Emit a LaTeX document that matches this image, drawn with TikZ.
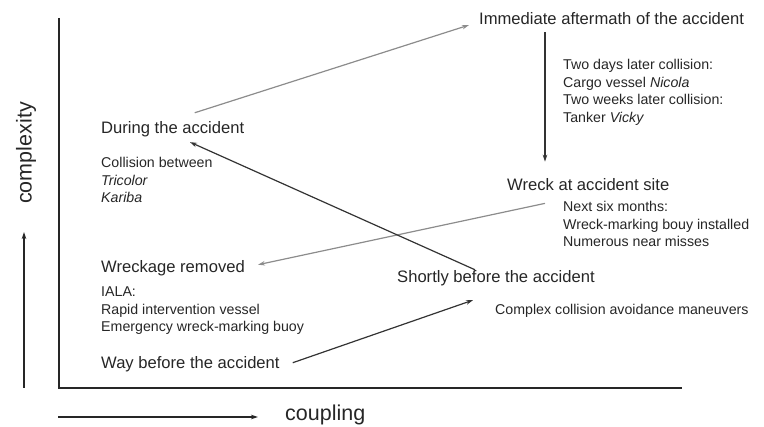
\documentclass[tikz,border=0pt]{standalone}
\usepackage{fontspec}
\setmainfont{Liberation Sans}
\usetikzlibrary{arrows.meta}
\begin{document}
\begin{tikzpicture}[x=1pt,y=-1pt,>={Stealth[length=7pt,width=4.5pt]},
  big/.style={anchor=base west,inner sep=0pt,font=\fontsize{16.6}{20}\selectfont,text=black!85},
  small/.style={anchor=base west,inner sep=0pt,align=left,font=\fontsize{14.2}{17.5}\selectfont,text=black!85},
  axislabel/.style={inner sep=0pt,font=\fontsize{21.5}{24}\selectfont,text=black!85},
  light/.style={->,color=black!45,line width=1.2pt},
  dark/.style={->,color=black!80,line width=1.2pt}]
\useasboundingbox (0,0) rectangle (764,427);
\draw[line width=2.6pt,color=black!85] (59,18) -- (59,388) -- (682,388);
\draw[->,line width=1.1pt,color=black!85] (24,388) -- (24,232);
\draw[->,line width=1.1pt,color=black!85] (58,417) -- (258,417);
\node[axislabel,rotate=90] (complexity) at (26,153) {complexity};
\node[axislabel,anchor=west] (coupling) at (285,415) {coupling};

\node[big] (during) at (101,134) {During the accident};
\node[small] (collision) at (101,203) {Collision between\\\textit{Tricolor}\\\textit{Kariba}};
\node[big] (aftermath) at (479,25) {Immediate aftermath of the accident};
\node[small] (later) at (563,122.5) {Two days later collision:\\Cargo vessel \textit{Nicola}\\Two weeks later collision:\\Tanker \textit{Vicky}};
\node[big] (wreck) at (507,191) {Wreck at accident site};
\node[small] (months) at (563,247) {Next six months:\\Wreck-marking bouy installed\\Numerous near misses};
\node[big] (shortly) at (397,283) {Shortly before the accident};
\node[small] (maneuvers) at (495,315) {Complex collision avoidance maneuvers};
\node[big] (removed) at (101,273) {Wreckage removed};
\node[small] (iala) at (101,332) {IALA:\\Rapid intervention vessel\\Emergency wreck-marking buoy};
\node[big] (way) at (101,369) {Way before the accident};

\draw[light] ([xshift=22pt,yshift=9pt]during.north) -- ([xshift=-10pt,yshift=-6pt]aftermath.west);
\draw[dark] ([xshift=66pt,yshift=-7pt]aftermath.south west) -- ([xshift=38pt,yshift=17pt]wreck.north west);
\draw[light] ([xshift=38pt,yshift=-12pt]wreck.south west) -- ([xshift=13pt,yshift=4pt]removed.east);
\draw[dark] ([xshift=78pt,yshift=1pt]shortly.north west) -- ([xshift=89pt,yshift=-4.5pt]during.south west);
\draw[dark] ([xshift=13pt,yshift=2pt]way.east) -- ([xshift=76pt,yshift=-13.5pt]shortly.south west);
\end{tikzpicture}
\end{document}
